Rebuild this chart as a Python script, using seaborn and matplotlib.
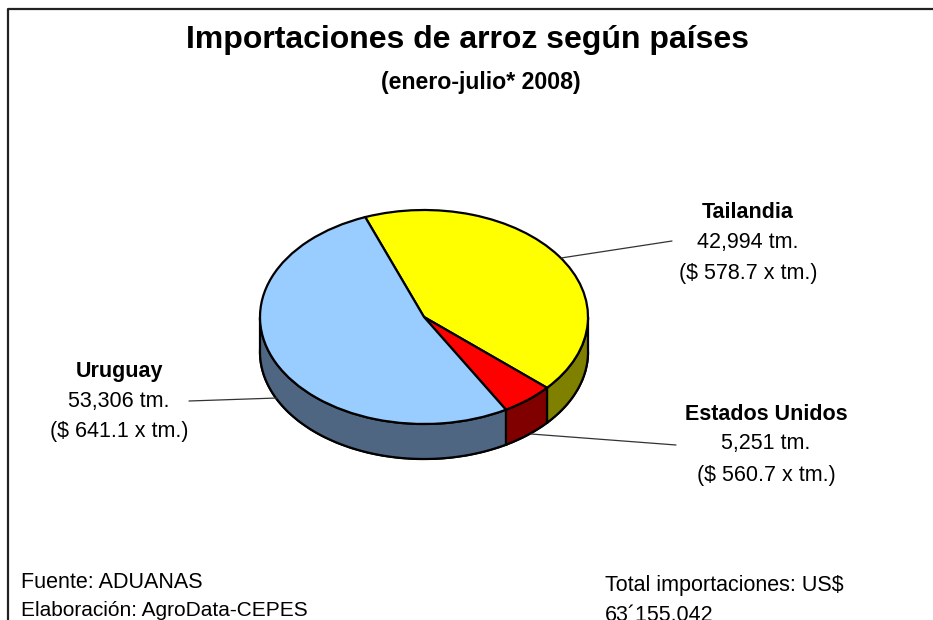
import numpy as np
import pandas as pd
import seaborn as sns
import matplotlib
matplotlib.use("Agg")
import matplotlib.pyplot as plt
from matplotlib.patches import Polygon

countries = ["Tailandia", "Estados Unidos", "Uruguay"]
tonnes = [42994, 5251, 53306]
prices = ["$ 578.7 x tm.", "$ 560.7 x tm.", "$ 641.1 x tm."]
top_colors = ["#FFFF00", "#FF0000", "#99CCFF"]
side_colors = ["#808000", "#800000", "#4F6683"]

W, H = 933, 620
CX, CY, RX, RY, DEPTH = 424, 317, 164, 107, 35
START = 111

sns.set_theme(style="white")
plt.rcParams["font.family"] = ["Liberation Sans", "DejaVu Sans"]
df = pd.DataFrame({"pais": countries, "tm": tonnes})

fig = plt.figure(figsize=(W / 100, H / 100), dpi=100, facecolor="white")
ax = fig.add_axes([0, 0, 1, 1])

d = DEPTH / RY
# base of the drum
ax.pie(df["tm"], colors=side_colors, startangle=START, counterclock=False,
       center=(0, -d), radius=1, wedgeprops=dict(edgecolor="black", linewidth=1.6))

# side walls, computed from the shares
fr = df["tm"].to_numpy() / df["tm"].sum()
edges = START - np.concatenate([[0], np.cumsum(fr)]) * 360
for i, col in enumerate(side_colors):
    a0, a1 = edges[i], edges[i + 1]
    th = np.radians(np.linspace(a0, a1, 200))
    th = th[np.sin(th) <= 0]
    if th.size == 0:
        continue
    xs, ys = np.cos(th), np.sin(th)
    pts = np.column_stack([np.r_[xs, xs[::-1]], np.r_[ys, ys[::-1] - d]])
    ax.add_patch(Polygon(pts, closed=True, facecolor=col, edgecolor="black", linewidth=1.6, zorder=3))

# top face
wedges, _ = ax.pie(df["tm"], colors=top_colors, startangle=START, counterclock=False,
                   center=(0, 0), radius=1, wedgeprops=dict(edgecolor="black", linewidth=1.6, zorder=4))

ax.set_aspect("auto")
ax.set_xlim((0 - CX) / RX, (W - CX) / RX)
ax.set_ylim((CY - H) / RY, CY / RY)
ax.axis("off")


def px(x, y):
    return x / W, 1 - y / H


def label(x, y, s, **kw):
    fig.text(*px(x, y), s, ha=kw.pop("ha", "center"), va="center", color="black", **kw)


# frame: top and left only
fig.add_artist(plt.Line2D([8 / W, 8 / W, 1], [0, 1 - 9 / H, 1 - 9 / H], color="#222222", lw=1.6, transform=fig.transFigure))

# leader lines
for (x0, y0, x1, y1) in [(561, 258, 672, 241), (531, 434, 676, 445), (189, 401, 277, 398)]:
    fig.add_artist(plt.Line2D([x0 / W, x1 / W], [1 - y0 / H, 1 - y1 / H], color="#333333", lw=0.9, transform=fig.transFigure))

label(467, 40, "Importaciones de arroz según países", fontsize=23, fontweight="bold")
label(481, 82, "(enero-julio* 2008)", fontsize=16.7, fontweight="bold")

fs = 15.5
positions = [(748, 242), (766, 444), (119, 401)]
for (x, y), c, t, p in zip(positions, countries, tonnes, prices):
    label(x, y - 30, c, fontsize=fs, fontweight="bold")
    label(x, y, f"{t:,} tm.", fontsize=fs)
    label(x, y + 31, f"({p})", fontsize=fs)

label(21, 583, "Fuente: ADUANAS", ha="left", fontsize=fs)
label(21, 611, "Elaboración: AgroData-CEPES", ha="left", fontsize=15)
label(605, 586, "Total importaciones: US$", ha="left", fontsize=fs)
label(605, 615, "63´155,042", ha="left", fontsize=fs)

fig.savefig("out.png", dpi=100)
